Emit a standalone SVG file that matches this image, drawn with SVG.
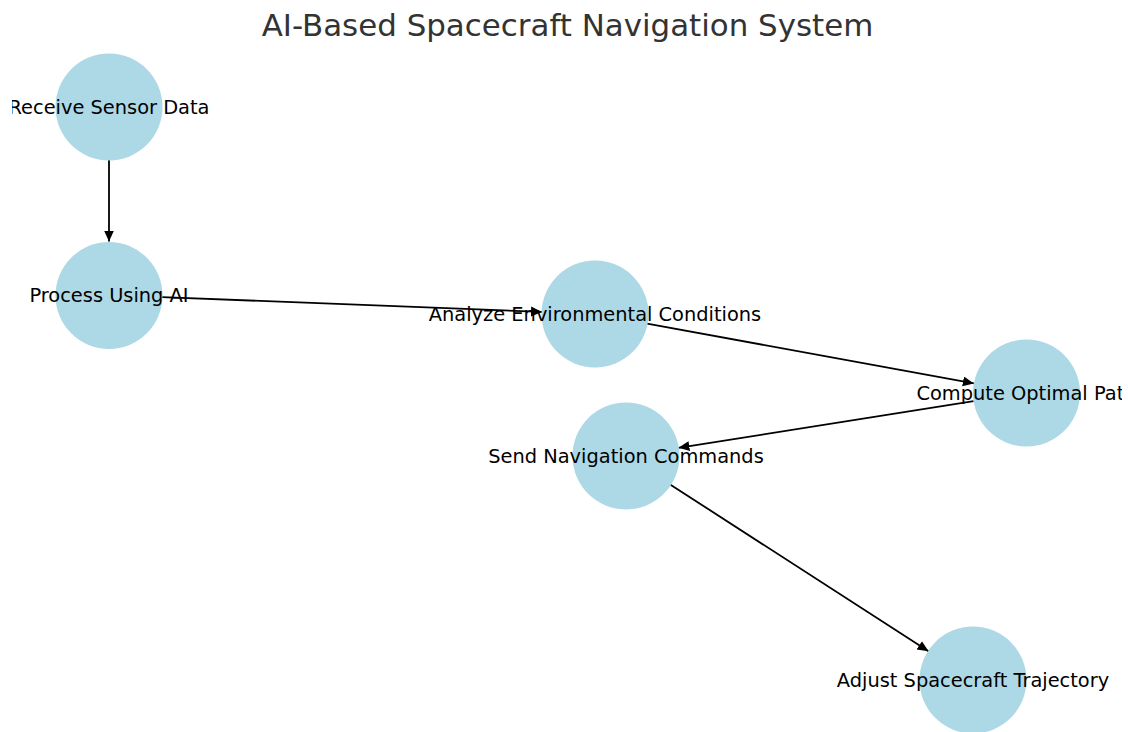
<svg xmlns="http://www.w3.org/2000/svg" width="1128" height="732" viewBox="0 0 1128 732">
  <style>
    .node { fill: #ADD8E6; }
    .label { font-family: "DejaVu Sans", sans-serif; font-size: 19.4px; fill: #000; text-anchor: middle; }
    .title { font-family: "DejaVu Sans", sans-serif; font-size: 30.9px; fill: #333333; text-anchor: middle; }
    .edge { stroke: #000; stroke-width: 1.8; fill: none; marker-end: url(#arrow); }
  </style>
  <defs>
    <marker id="arrow" markerUnits="userSpaceOnUse" markerWidth="13" markerHeight="11" refX="11" refY="5" orient="auto">
      <path d="M0,0 L11,5 L0,10 Z" fill="#000"/>
    </marker>
    <clipPath id="axes">
      <rect x="12" y="0" width="1110" height="732"/>
    </clipPath>
  </defs>
  <rect width="1128" height="732" fill="#ffffff"/>
  <text class="title" x="567.5" y="36">AI-Based Spacecraft Navigation System</text>
  <g id="connectors">
    <line class="edge" x1="109" y1="160" x2="109" y2="241.5"/>
    <line class="edge" x1="162" y1="297.1" x2="542" y2="311.9"/>
    <line class="edge" x1="647.1" y1="323.6" x2="973.9" y2="383.4"/>
    <line class="edge" x1="973.6" y1="401.2" x2="678.4" y2="447.8"/>
    <line class="edge" x1="670.5" y1="484.7" x2="928.5" y2="651.3"/>
  </g>
  <g clip-path="url(#axes)">
    <g id="node-receive">
      <circle class="node" cx="109" cy="107" r="53.5"/>
      <text class="label" x="109" y="114">Receive Sensor Data</text>
    </g>
    <g id="node-process">
      <circle class="node" cx="109" cy="295.5" r="53.5"/>
      <text class="label" x="109" y="301.5">Process Using AI</text>
    </g>
    <g id="node-analyze">
      <circle class="node" cx="595" cy="314" r="53.5"/>
      <text class="label" x="595" y="321">Analyze Environmental Conditions</text>
    </g>
    <g id="node-compute">
      <circle class="node" cx="1026.5" cy="393" r="53.5"/>
      <text class="label" x="1026.5" y="400">Compute Optimal Path</text>
    </g>
    <g id="node-send">
      <circle class="node" cx="626" cy="456" r="53.5"/>
      <text class="label" x="626" y="463">Send Navigation Commands</text>
    </g>
    <g id="node-adjust">
      <circle class="node" cx="973" cy="680" r="53.5"/>
      <text class="label" x="973" y="687">Adjust Spacecraft Trajectory</text>
    </g>
  </g>
</svg>
